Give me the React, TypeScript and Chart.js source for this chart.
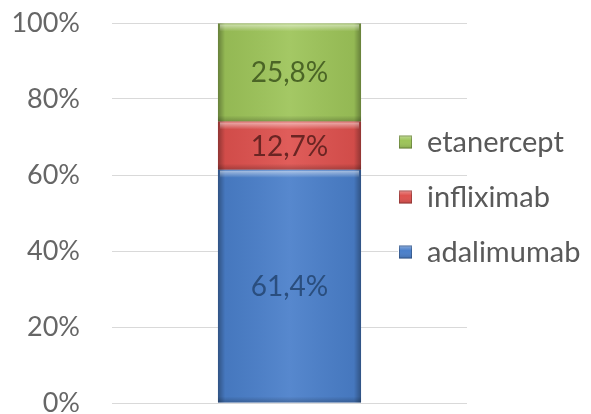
import { useEffect, useRef } from 'react';
import { Chart, registerables } from 'chart.js';

Chart.register(...registerables);

const categories = [''];
const seriesNames = ['adalimumab', 'infliximab', 'etanercept'];
const adalimumab = [61.4];
const infliximab = [12.7];
const etanercept = [25.8];
const yTickValues = [0, 20, 40, 60, 80, 100];

const fillColors = ['#4A7FCA', '#DE514E', '#9DC459'];
const labelColors = ['#2A4E7E', '#6A2523', '#4B6526'];
const FONT = 'Lato, "Open Sans", sans-serif';

const fmt = (v: number) => v.toFixed(1).replace('.', ',') + '%';

const bevelPlugin = {
  id: 'bevel',
  afterDatasetsDraw(chart: any) {
    const ctx = chart.ctx;
    chart.data.datasets.forEach((ds: any, di: number) => {
      const meta = chart.getDatasetMeta(di);
      meta.data.forEach((el: any, i: number) => {
        const { x, y, base, width } = el.getProps(['x', 'y', 'base', 'width'], true);
        const left = x - width / 2;
        const right = x + width / 2;
        const top = Math.min(y, base);
        const bottom = Math.max(y, base);
        const h = bottom - top;
        ctx.save();
        const g = ctx.createLinearGradient(left, 0, right, 0);
        g.addColorStop(0, 'rgba(0,0,0,0.35)');
        g.addColorStop(0.05, 'rgba(0,0,0,0.06)');
        g.addColorStop(0.5, 'rgba(255,255,255,0.07)');
        g.addColorStop(0.95, 'rgba(0,0,0,0.06)');
        g.addColorStop(1, 'rgba(0,0,0,0.35)');
        ctx.fillStyle = g;
        ctx.fillRect(left, top, width, h);
        const t = ctx.createLinearGradient(0, top, 0, top + 8);
        t.addColorStop(0, 'rgba(255,255,255,0.6)');
        t.addColorStop(1, 'rgba(255,255,255,0)');
        ctx.fillStyle = t;
        ctx.fillRect(left + 2, top + 1, width - 4, Math.min(8, h));
        const b = ctx.createLinearGradient(0, bottom - 6, 0, bottom);
        b.addColorStop(0, 'rgba(0,0,0,0)');
        b.addColorStop(1, 'rgba(0,0,0,0.22)');
        ctx.fillStyle = b;
        ctx.fillRect(left, bottom - 6, width, 6);
        // value label
        ctx.fillStyle = labelColors[di];
        ctx.font = `28px ${FONT}`;
        ctx.textAlign = 'center';
        ctx.textBaseline = 'middle';
        ctx.fillText(fmt(ds.data[i]), x, (top + bottom) / 2 + 1);
        ctx.restore();
      });
    });
  },
};

const legendPlugin = {
  id: 'customLegend',
  afterDraw(chart: any) {
    const ctx = chart.ctx;
    const area = chart.chartArea;
    const markerX = area.right - 68;
    const rows = [area.top + 119, area.top + 174, area.top + 229];
    const order = [2, 1, 0];
    ctx.save();
    ctx.font = `29px ${FONT}`;
    order.forEach((di, r) => {
      const cy = rows[r];
      const label = chart.data.datasets[di].label;
      const tw = ctx.measureText(label).width;
      ctx.fillStyle = '#ffffff';
      ctx.fillRect(markerX - 1, cy - 14, tw + 32, 28);
      const s = 13;
      const mx = markerX;
      const my = cy - s / 2;
      const g = ctx.createLinearGradient(0, my, 0, my + s);
      g.addColorStop(0, 'rgba(255,255,255,0.35)');
      g.addColorStop(0.4, 'rgba(255,255,255,0)');
      g.addColorStop(1, 'rgba(0,0,0,0.15)');
      ctx.fillStyle = fillColors[di];
      ctx.fillRect(mx, my, s, s);
      ctx.fillStyle = g;
      ctx.fillRect(mx, my, s, s);
      ctx.strokeStyle = 'rgba(0,0,0,0.25)';
      ctx.lineWidth = 1;
      ctx.strokeRect(mx + 0.5, my + 0.5, s - 1, s - 1);
      ctx.fillStyle = '#595959';
      ctx.textAlign = 'left';
      ctx.textBaseline = 'middle';
      ctx.fillText(label, markerX + 28, cy + 1);
    });
    ctx.restore();
  },
};

export default function App() {
  const ref = useRef<HTMLCanvasElement>(null);
  useEffect(() => {
    document.body.style.margin = '0';
    const seriesValues = [adalimumab, infliximab, etanercept];
    const chart = new Chart(ref.current!, {
      type: 'bar',
      data: {
        labels: categories,
        datasets: seriesNames.map((name, i) => ({
          label: name,
          data: seriesValues[i],
          backgroundColor: fillColors[i],
          borderWidth: 0,
          barPercentage: 0.403,
          categoryPercentage: 1,
        })),
      },
      options: {
        animation: false,
        responsive: false,
        maintainAspectRatio: false,
        layout: { padding: { top: 23, bottom: 11, left: 0, right: 124 } },
        plugins: { legend: { display: false }, tooltip: { enabled: false } },
        scales: {
          x: { stacked: true, display: false },
          y: {
            stacked: true,
            min: 0,
            max: 100,
            afterBuildTicks: (scale: any) => {
              scale.ticks = yTickValues.map((v) => ({ value: v }));
            },
            afterFit: (scale: any) => {
              scale.width = 112;
              scale.paddingTop = 0;
              scale.paddingBottom = 0;
            },
            border: { display: false },
            grid: { color: '#D9D9D9', drawTicks: false, lineWidth: 1 },
            ticks: {
              padding: 32,
              color: '#666666',
              font: { family: FONT, size: 27 },
              callback: (v: any) => v + '%',
            },
          },
        },
      },
      plugins: [bevelPlugin, legendPlugin],
    });
    return () => chart.destroy();
  }, []);
  return (
    <div style={{ width: 591, height: 414 }}>
      <canvas ref={ref} width={591} height={414} style={{ width: 591, height: 414, display: 'block' }} />
    </div>
  );
}
